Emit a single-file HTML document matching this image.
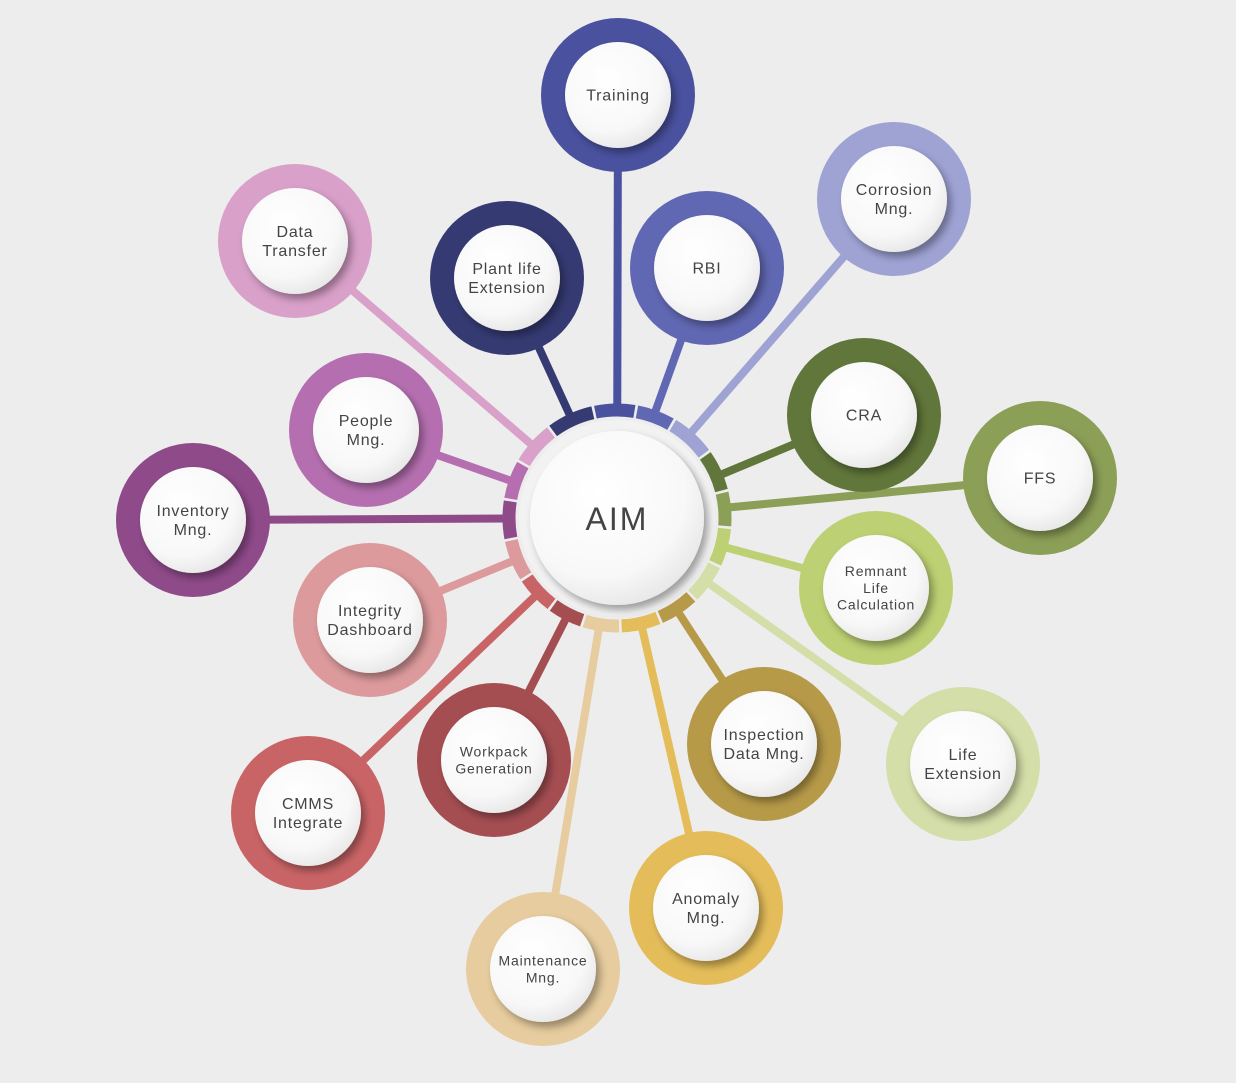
<!DOCTYPE html>
<html><head><meta charset="utf-8"><style>
html,body{margin:0;padding:0;background:#ededed;}
svg{display:block}
text{font-family:"Liberation Sans",sans-serif;fill:#444;letter-spacing:0.8px}
</style></head><body>
<svg id="s" width="1236" height="1083" viewBox="0 0 1236 1083" xmlns="http://www.w3.org/2000/svg">
<defs>
<filter id="sh" x="-30%" y="-30%" width="160%" height="160%"><feDropShadow dx="4" dy="5" stdDeviation="4" flood-color="#000" flood-opacity="0.35"/></filter>
<radialGradient id="wg" cx="40%" cy="35%" r="70%"><stop offset="0" stop-color="#ffffff"/><stop offset="0.7" stop-color="#f8f8f8"/><stop offset="1" stop-color="#e6e6e6"/></radialGradient>
</defs>
<g id="lines"></g>
<circle cx="617" cy="518" r="103" fill="#ededed"/>
<g id="ring"></g><g id="nodes"></g>
<circle cx="617" cy="518" r="98" fill="#f2f2f2"/>
<circle cx="617" cy="518" r="87" fill="url(#wg)" filter="url(#sh)"/>
<text x="617" y="530" text-anchor="middle" font-size="32" style="letter-spacing:2px;fill:#444">AIM</text>
</svg>
<script>
var C=[617,518];
var N=[
["Training",618,95,"#4a52a0",["Training"],16],
["RBI",707,268,"#6168b3",["RBI"],16],
["Corr",894,199,"#9fa3d4",["Corrosion","Mng."],16],
["CRA",864,415,"#61763a",["CRA"],16],
["FFS",1040,478,"#8c9f57",["FFS"],16],
["RLC",876,588,"#bdd073",["Remnant","Life","Calculation"],14],
["LE",963,764,"#d4dea8",["Life","Extension"],16],
["IDM",764,744,"#b69a48",["Inspection","Data Mng."],16],
["AM",706,908,"#e4bd5a",["Anomaly","Mng."],16],
["MM",543,969,"#e6cc9e",["Maintenance","Mng."],14],
["WG",494,760,"#a54e52",["Workpack","Generation"],14],
["CMMS",308,813,"#c96466",["CMMS","Integrate"],16],
["ID",370,620,"#dc9a9c",["Integrity","Dashboard"],16],
["IM",193,520,"#8f4a8a",["Inventory","Mng."],16],
["PM",366,430,"#b56fb0",["People","Mng."],16],
["DT",295,241,"#d9a0c9",["Data","Transfer"],16],
["PLE",507,278,"#353a72",["Plant life","Extension"],16]
];
var ns="http://www.w3.org/2000/svg";
function el(t,a,p){var e=document.createElementNS(ns,t);for(var k in a)e.setAttribute(k,a[k]);document.getElementById(p).appendChild(e);return e;}
var ang=N.map(function(n){return Math.atan2(n[2]-C[1],n[1]-C[0]);});
N.forEach(function(n,i){
 el("line",{x1:C[0],y1:C[1],x2:n[1],y2:n[2],stroke:n[3],"stroke-width":8},"lines");
});
var R=108;
N.forEach(function(n,i){
 var a=ang[i];
 var idx=N.length;
 var prev=ang[(i-1+idx)%idx], next=ang[(i+1)%idx];
 function mid(x,y){var d=y-x;while(d>Math.PI)d-=2*Math.PI;while(d<-Math.PI)d+=2*Math.PI;return x+d/2;}
 var a1=mid(prev,a)+0.012, a2=mid(a,next)-0.012;
 var d=a2-a1;while(d<0)d+=2*Math.PI;
 var x1=C[0]+R*Math.cos(a1),y1=C[1]+R*Math.sin(a1),x2=C[0]+R*Math.cos(a1+d),y2=C[1]+R*Math.sin(a1+d);
 el("path",{d:"M"+x1+" "+y1+" A"+R+" "+R+" 0 0 1 "+x2+" "+y2,stroke:n[3],"stroke-width":13,fill:"none"},"ring");
});
N.forEach(function(n){
 el("circle",{cx:n[1],cy:n[2],r:77,fill:n[3]},"nodes");
 el("circle",{cx:n[1],cy:n[2],r:53,fill:"url(#wg)",filter:"url(#sh)"},"nodes");
 var L=n[4],fs=n[5],lh=fs*1.2;
 var y0=n[2]-(L.length-1)*lh/2+fs*0.35;
 L.forEach(function(t,j){var e=el("text",{x:n[1],y:y0+j*lh,"text-anchor":"middle","font-size":fs},"nodes");e.textContent=t;});
});
</script>
</body></html>
